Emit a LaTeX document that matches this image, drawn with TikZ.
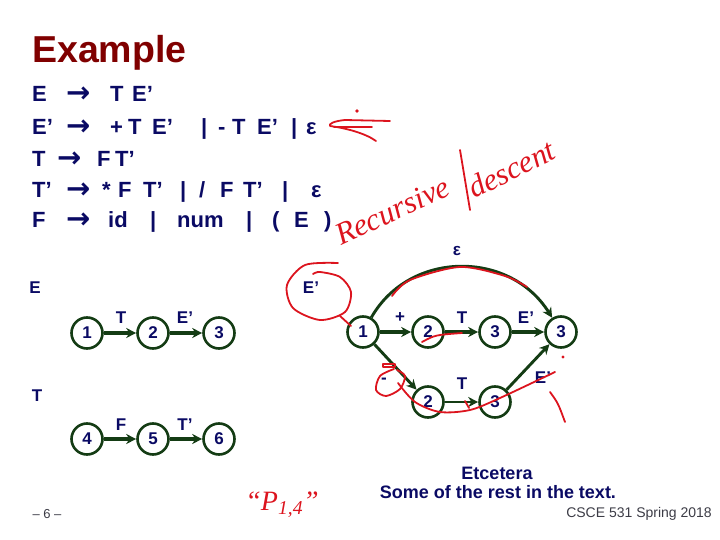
\documentclass[tikz,border=0pt]{standalone}
\usepackage{fontspec}
\setmainfont{Liberation Sans}
\newfontfamily\arrfont{DejaVu Sans}
\newfontfamily\handfont{Liberation Serif}
\usetikzlibrary{arrows.meta}
\definecolor{navy}{RGB}{10,10,100}
\definecolor{titlered}{RGB}{128,0,0}
\definecolor{dgreen}{RGB}{20,60,20}
\definecolor{hred}{RGB}{220,20,30}
\definecolor{footgray}{RGB}{60,60,70}
\newcommand{\gramfont}{\fontsize{22}{26}\selectfont\bfseries}
\tikzset{
  gram/.style={font=\gramfont, text=navy, inner sep=0pt, anchor=base west},
  garr/.style={font=\arrfont\fontsize{29}{30}\selectfont\bfseries, text=navy, inner sep=0pt, anchor=base west},
  st/.style={circle, draw=dgreen, line width=2.6pt, minimum size=31pt, inner sep=0pt,
             font=\fontsize{17}{17}\selectfont\bfseries, text=navy},
  lab/.style={font=\fontsize{17}{17}\selectfont\bfseries, text=navy, inner sep=0pt},
  ed/.style={draw=dgreen, line width=3.8pt, -{Stealth[length=10pt,width=10pt]}},
  edm/.style={draw=dgreen, line width=2.9pt, -{Stealth[length=10pt,width=10pt]}},
  hand/.style={draw=hred, line width=1.8pt, line cap=round, line join=round},
  handtext/.style={font=\handfont\itshape\fontsize{31}{31}\selectfont, text=hred, inner sep=0pt, anchor=base west},
}
\begin{document}
\begin{tikzpicture}[x=1pt,y=-1pt]
\useasboundingbox (0,0) rectangle (720,540);
% title
\node[font=\fontsize{37.5}{40}\selectfont\bfseries, text=titlered, inner sep=0pt, anchor=base west] (title) at (32,63) {Example};
% grammar line 1
\node[gram] (l1a) at (32,102) {E};
\node[garr] (l1b) at (66,103) {→};
\node[gram] (l1c) at (110,102) {T};
\node[gram] (l1d) at (132,102) {E’};
% line 2
\node[gram] (l2a) at (32,135) {E’};
\node[garr] (l2b) at (66,136) {→};
\node[gram] (l2c) at (110,135) {+};
\node[gram] (l2d) at (128,135) {T};
\node[gram] (l2e) at (152,135) {E’};
\node[gram] (l2f) at (201,135) {|};
\node[gram] (l2g) at (218,135) {-};
\node[gram] (l2h) at (232,135) {T};
\node[gram] (l2i) at (257,135) {E’};
\node[gram] (l2j) at (291,135) {|};
\node[gram] (l2k) at (306,135) {ε};
% line 3
\node[gram] (l3a) at (32,167) {T};
\node[garr] (l3b) at (57,168) {→};
\node[gram] (l3c) at (97,167) {F};
\node[gram] (l3d) at (115,167) {T’};
% line 4
\node[gram] (l4a) at (32,198) {T’};
\node[garr] (l4b) at (66,199) {→};
\node[gram] (l4c) at (102,198) {*};
\node[gram] (l4d) at (118,198) {F};
\node[gram] (l4e) at (143,198) {T’};
\node[gram] (l4f) at (180,198) {|};
\node[gram] (l4g) at (199,198) {/};
\node[gram] (l4h) at (220,198) {F};
\node[gram] (l4i) at (243,198) {T’};
\node[gram] (l4j) at (282,198) {|};
\node[gram] (l4k) at (311,198) {ε};
% line 5
\node[gram] (l5a) at (32,228) {F};
\node[garr] (l5b) at (66,229) {→};
\node[gram] (l5c) at (108,228) {id};
\node[gram] (l5d) at (150,228) {|};
\node[gram] (l5e) at (177,228) {num};
\node[gram] (l5f) at (246,228) {|};
\node[gram] (l5g) at (272,228) {(};
\node[gram] (l5h) at (294,228) {E};
\node[gram] (l5i) at (324,228) {)};
% left diagrams
\node[lab] (lE) at (35,288) {E};
\node[st] (a1) at (87,333) {1};
\node[st] (a2) at (153,333) {2};
\node[st] (a3) at (219,333) {3};
\draw[ed] (a1) -- (a2);
\draw[ed] (a2) -- (a3);
\node[lab] (aT) at (121,318) {T};
\node[lab] (aE) at (185,318) {E’};
\node[lab] (lT) at (37,396) {T};
\node[st] (b1) at (87,439) {4};
\node[st] (b2) at (153,439) {5};
\node[st] (b3) at (219,439) {6};
\draw[ed] (b1) -- (b2);
\draw[ed] (b2) -- (b3);
\node[lab] (bF) at (121,425) {F};
\node[lab] (bT) at (185,425) {T’};
% right diagram
\node[lab] (lEp) at (311,288) {E’};
\node[st] (r1) at (363,332) {1};
\node[st] (r2) at (428,332) {2};
\node[st] (r3) at (495,332) {3};
\node[st] (r4) at (561,332) {3};
\node[st] (s2) at (428,402) {2};
\node[st] (s3) at (495,402) {3};
\draw[ed] (r1) -- (r2);
\draw[ed] (r2) -- (r3);
\draw[ed] (r3) -- (r4);
\draw[edm] (r1) -- (s2);
\draw[edm] (s2) -- (s3);
\draw[edm] (s3) -- (r4);
\draw[edm] (r1) .. controls (410,250) and (510,250) .. (r4);
\node[lab] (rp) at (400,318) {+};
\node[lab] (rT) at (462,318) {T};
\node[lab] (rE) at (526,318) {E’};
\node[lab] (rm) at (384,381) {-};
\node[lab] (sT) at (462,384) {T};
\node[lab] (sE) at (543,378) {E’};
\node[lab] (reps) at (457,251) {ε};
% bottom texts
\node[font=\fontsize{18}{20}\selectfont\bfseries, text=navy, inner sep=0pt] (etc) at (497,473) {Etcetera};
\node[font=\fontsize{18}{20}\selectfont\bfseries, text=navy, inner sep=0pt] (rest) at (498,492) {Some of the rest in the text.};
\node[font=\fontsize{14}{16}\selectfont, text=footgray, inner sep=0pt, anchor=east] (course) at (712,514) {CSCE 531 Spring 2018};
\node[font=\fontsize{13}{15}\selectfont, text=footgray, inner sep=0pt] (page) at (47,514) {– 6 –};
% red handwriting annotations
\draw[hand] (390,121) -- (345,120) .. controls (334,121) and (328,124) .. (330,126)
  .. controls (345,128) and (365,133) .. (376,141);
\draw[hand] (334,127) -- (372,127);
\fill[hred] (357,111) circle (1.8pt);
\node[handtext, rotate=25] (rec) at (341,246) {Recursive};
\node[handtext, rotate=26] (desc) at (474,199) {descent};
\draw[hand] (460,150) -- (470,210);
\draw[hand] plot[smooth] coordinates {(338,263) (305,265) (287,285) (293,308) (320,320) (345,312) (351,292) (340,277) (320,272) (313,274)};
\draw[hand] (340,316) -- (351,326);
\draw[hand] plot[smooth] coordinates {(392,296) (410,280) (460,267) (505,276) (527,287)};
\draw[hand] (422,342) .. controls (435,335) .. (462,333);
\draw[hand] (383,364) rectangle (395,367);
\draw[hand] plot[smooth] coordinates {(394,369) (380,376) (376,390) (386,396) (400,389) (405,376) (397,370)};
\draw[hand] plot[smooth] coordinates {(398,383) (415,402) (440,412) (470,410) (500,398) (555,372)};
\draw[hand] (465,401) -- (469,408);
\fill[hred] (563,357) circle (1.6pt);
\draw[hand] (550,392) .. controls (558,403) .. (565,422);
\node[font=\handfont\itshape\fontsize{28}{28}\selectfont, text=hred, inner sep=0pt] (p14) at (282,505) {“P\textsubscript{1,4}”};
\end{tikzpicture}
\end{document}
